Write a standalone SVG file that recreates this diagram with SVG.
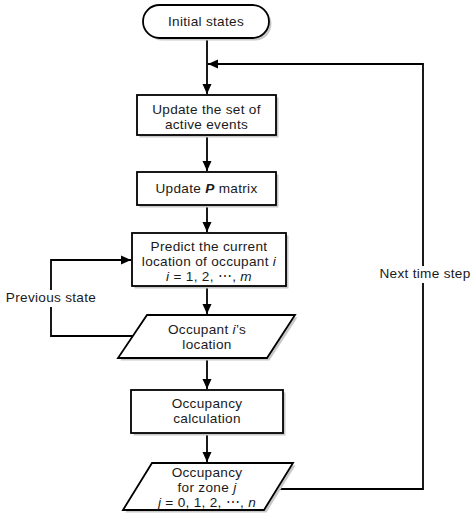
<svg xmlns="http://www.w3.org/2000/svg" width="474" height="520" viewBox="0 0 474 520">
<style>
.shape{fill:#fff;stroke:#000;stroke-width:1.8}
.shadow{fill:#c8c8c8;stroke:none}
.conn{fill:none;stroke:#000;stroke-width:1.8}
text{font-family:"Liberation Sans",Arial,sans-serif;font-size:13.6px;letter-spacing:0.3px;fill:#1a1a1a;text-anchor:middle}
.it{font-style:italic}
.b{font-weight:bold;font-style:italic}
</style>
<defs>
<marker id="ah" markerUnits="userSpaceOnUse" markerWidth="12" markerHeight="12" viewBox="0 0 12 12" refX="11" refY="6" orient="auto">
<path d="M1,1.5 L11,6 L1,10.5 Z" fill="#000"/>
</marker>
</defs>
<rect width="474" height="520" fill="#fff"/>
<g id="connectors">
<line class="conn" x1="207" y1="38" x2="207" y2="94" marker-end="url(#ah)"/>
<line class="conn" x1="207" y1="135" x2="207" y2="171" marker-end="url(#ah)"/>
<line class="conn" x1="207" y1="205" x2="207" y2="232" marker-end="url(#ah)"/>
<line class="conn" x1="207" y1="286" x2="207" y2="314" marker-end="url(#ah)"/>
<line class="conn" x1="207" y1="358" x2="207" y2="389" marker-end="url(#ah)"/>
<line class="conn" x1="207" y1="433" x2="207" y2="462" marker-end="url(#ah)"/>
<polyline class="conn" points="133,336 51,336 51,260 131,260" marker-end="url(#ah)"/>
<polyline class="conn" points="277,489 423,489 423,64 208,64" marker-end="url(#ah)"/>
<rect x="4" y="290" width="94" height="17" fill="#fff"/>
<text x="51" y="302">Previous state</text>
<rect x="378" y="266" width="94" height="17" fill="#fff"/>
<text x="425" y="278">Next time step</text>
</g>
<g id="initial">
<rect class="shadow" x="145.5" y="7.5" width="126" height="33" rx="16.5"/>
<rect class="shape" x="143" y="5" width="126" height="33" rx="16.5"/>
<text x="206" y="26">Initial states</text>
</g>
<g id="update-events">
<rect class="shadow" x="139.5" y="97.5" width="139" height="40"/>
<rect class="shape" x="137" y="95" width="139" height="40"/>
<text x="206.5" y="114">Update the set of</text>
<text x="206.5" y="129.4">active events</text>
</g>
<g id="update-p">
<rect class="shadow" x="139.5" y="174.5" width="139" height="33"/>
<rect class="shape" x="137" y="172" width="139" height="33"/>
<text x="206.5" y="193">Update <tspan class="b">P</tspan> matrix</text>
</g>
<g id="predict">
<rect class="shadow" x="134.5" y="235.5" width="154" height="53"/>
<rect class="shape" x="132" y="233" width="154" height="53"/>
<text x="209" y="250.5">Predict the current</text>
<text x="209" y="265.9">location of occupant <tspan class="it">i</tspan></text>
<text x="209" y="281.3"><tspan class="it">i</tspan> = 1, 2, ⋯, <tspan class="it">m</tspan></text>
</g>
<g id="occupant-location">
<polygon class="shadow" points="149.5,317.5 297.5,317.5 269.5,360.5 120.5,360.5"/>
<polygon class="shape" points="147,315 295,315 267,358 118,358"/>
<text x="207" y="333.5">Occupant <tspan class="it">i</tspan>’s</text>
<text x="207" y="348.9">location</text>
</g>
<g id="occupancy-calc">
<rect class="shadow" x="133.5" y="392.5" width="152" height="43"/>
<rect class="shape" x="131" y="390" width="152" height="43"/>
<text x="207" y="407.5">Occupancy</text>
<text x="207" y="422.9">calculation</text>
</g>
<g id="occupancy-zone">
<polygon class="shadow" points="154.5,465.5 295.5,465.5 266.5,512.5 125.5,512.5"/>
<polygon class="shape" points="152,463 293,463 264,510 123,510"/>
<text x="207" y="476.5">Occupancy</text>
<text x="207" y="491.9">for zone <tspan class="it">j</tspan></text>
<text x="207" y="507.3"><tspan class="it">j</tspan> = 0, 1, 2, ⋯, <tspan class="it">n</tspan></text>
</g>
</svg>
